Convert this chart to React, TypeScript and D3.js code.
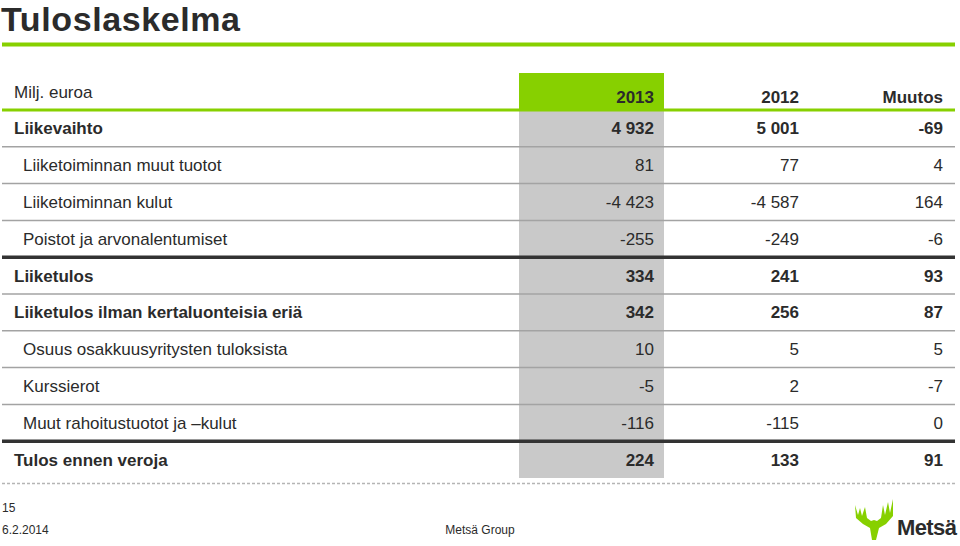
import * as d3 from "d3";

const rowLabels = [
  "Liikevaihto",
  "Liiketoiminnan muut tuotot",
  "Liiketoiminnan kulut",
  "Poistot ja arvonalentumiset",
  "Liiketulos",
  "Liiketulos ilman kertaluonteisia eriä",
  "Osuus osakkuusyritysten tuloksista",
  "Kurssierot",
  "Muut rahoitustuotot ja \u2013kulut",
  "Tulos ennen veroja",
];
const values2013 = [4932, 81, -4423, -255, 334, 342, 10, -5, -116, 224];
const values2012 = [5001, 77, -4587, -249, 241, 256, 5, 2, -115, 133];
const change = [-69, 4, 164, -6, 93, 87, 5, -7, 0, 91];
const columnHeads = ["2013", "2012", "Muutos"];
const boldRows = [0, 4, 5, 9];
const thickAfter = [3, 8];

const W = 960, H = 546;
const GREEN = "#87d000";
const GREY = "#c9c9c9";
const TEXT = "#2b2b2b";
const FONT = "'Liberation Sans', Arial, sans-serif";

const fmt = d3.formatLocale({ decimal: ",", thousands: "\u00a0", grouping: [3], currency: ["", "€"], minus: "-" }).format(",d");

export default function App() {
  const y = d3.scaleBand<string>().domain(rowLabels).range([110, 478]);
  const colRight = d3.scaleOrdinal<string, number>().domain(columnHeads).range([654, 799, 943]);
  const cols = [values2013, values2012, change];
  const bw = y.bandwidth();

  return (
    <svg width={W} height={H} style={{ position: "absolute", left: 0, top: 0, fontFamily: FONT }}>
      <rect width={W} height={H} fill="#fff" />
      <text x={1} y={30.5} fontSize={34} fontWeight="bold" fill={TEXT} letterSpacing={0.6}>Tuloslaskelma</text>
      <line x1={2} x2={955} y1={44.5} y2={44.5} stroke={GREEN} strokeWidth={4} />

      {/* 2013 column highlight */}
      <rect x={519} y={73} width={145} height={37} fill={GREEN} />
      <rect x={519} y={110} width={145} height={368} fill={GREY} />

      <text x={14} y={98} fontSize={17} fill={TEXT}>Milj. euroa</text>
      {columnHeads.map(h => (
        <text key={h} x={colRight(h)} y={103} textAnchor="end" fontSize={17} fontWeight="bold" fill={TEXT}>{h}</text>
      ))}
      <line x1={2} x2={955} y1={110} y2={110} stroke={GREEN} strokeWidth={3} />

      {rowLabels.map((lab, i) => {
        const yc = (y(lab) ?? 0) + bw / 2;
        const bold = boldRows.includes(i);
        return (
          <g key={lab}>
            <text x={bold ? 14 : 23} y={yc + 6} fontSize={17} fontWeight={bold ? "bold" : "normal"} fill={TEXT}>{lab}</text>
            {cols.map((vals, c) => (
              <text key={c} x={colRight(columnHeads[c])} y={yc + 6} textAnchor="end" fontSize={17}
                fontWeight={bold ? "bold" : "normal"} fill={TEXT}>{fmt(vals[i])}</text>
            ))}
            {i < rowLabels.length - 1 && (
              <line x1={2} x2={955} y1={(y(lab) ?? 0) + bw} y2={(y(lab) ?? 0) + bw}
                stroke={thickAfter.includes(i) ? "#333" : "#a3a3a3"}
                strokeWidth={thickAfter.includes(i) ? 3.5 : 1.5} />
            )}
          </g>
        );
      })}

      <line x1={2} x2={955} y1={483.5} y2={483.5} stroke="#b5b5b5" strokeWidth={1.5} strokeDasharray="3,2" />

      <text x={2} y={512} fontSize={12} fill={TEXT}>15</text>
      <text x={2} y={534} fontSize={12} fill={TEXT}>6.2.2014</text>
      <text x={480} y={534} fontSize={12} fill={TEXT} textAnchor="middle">Metsä Group</text>

      {/* logo */}
      <g transform="translate(855,499)">
        <path fill={GREEN} d="M0,6 L3,16 L5,9 L7,17 L10,8 L12,19 L16,22 L19,21 L22,22 L26,19 L28,6 L30,16 L33,3 L35,14 L38,0 L38,17 L31,25 L24,29 L21,41 L17,41 L15,29 L8,25 L1,19 Z" />
      </g>
      <text x={897} y={535} fontSize={22} fontWeight="bold" fill={TEXT} letterSpacing={-0.6}>Metsä</text>
    </svg>
  );
}
